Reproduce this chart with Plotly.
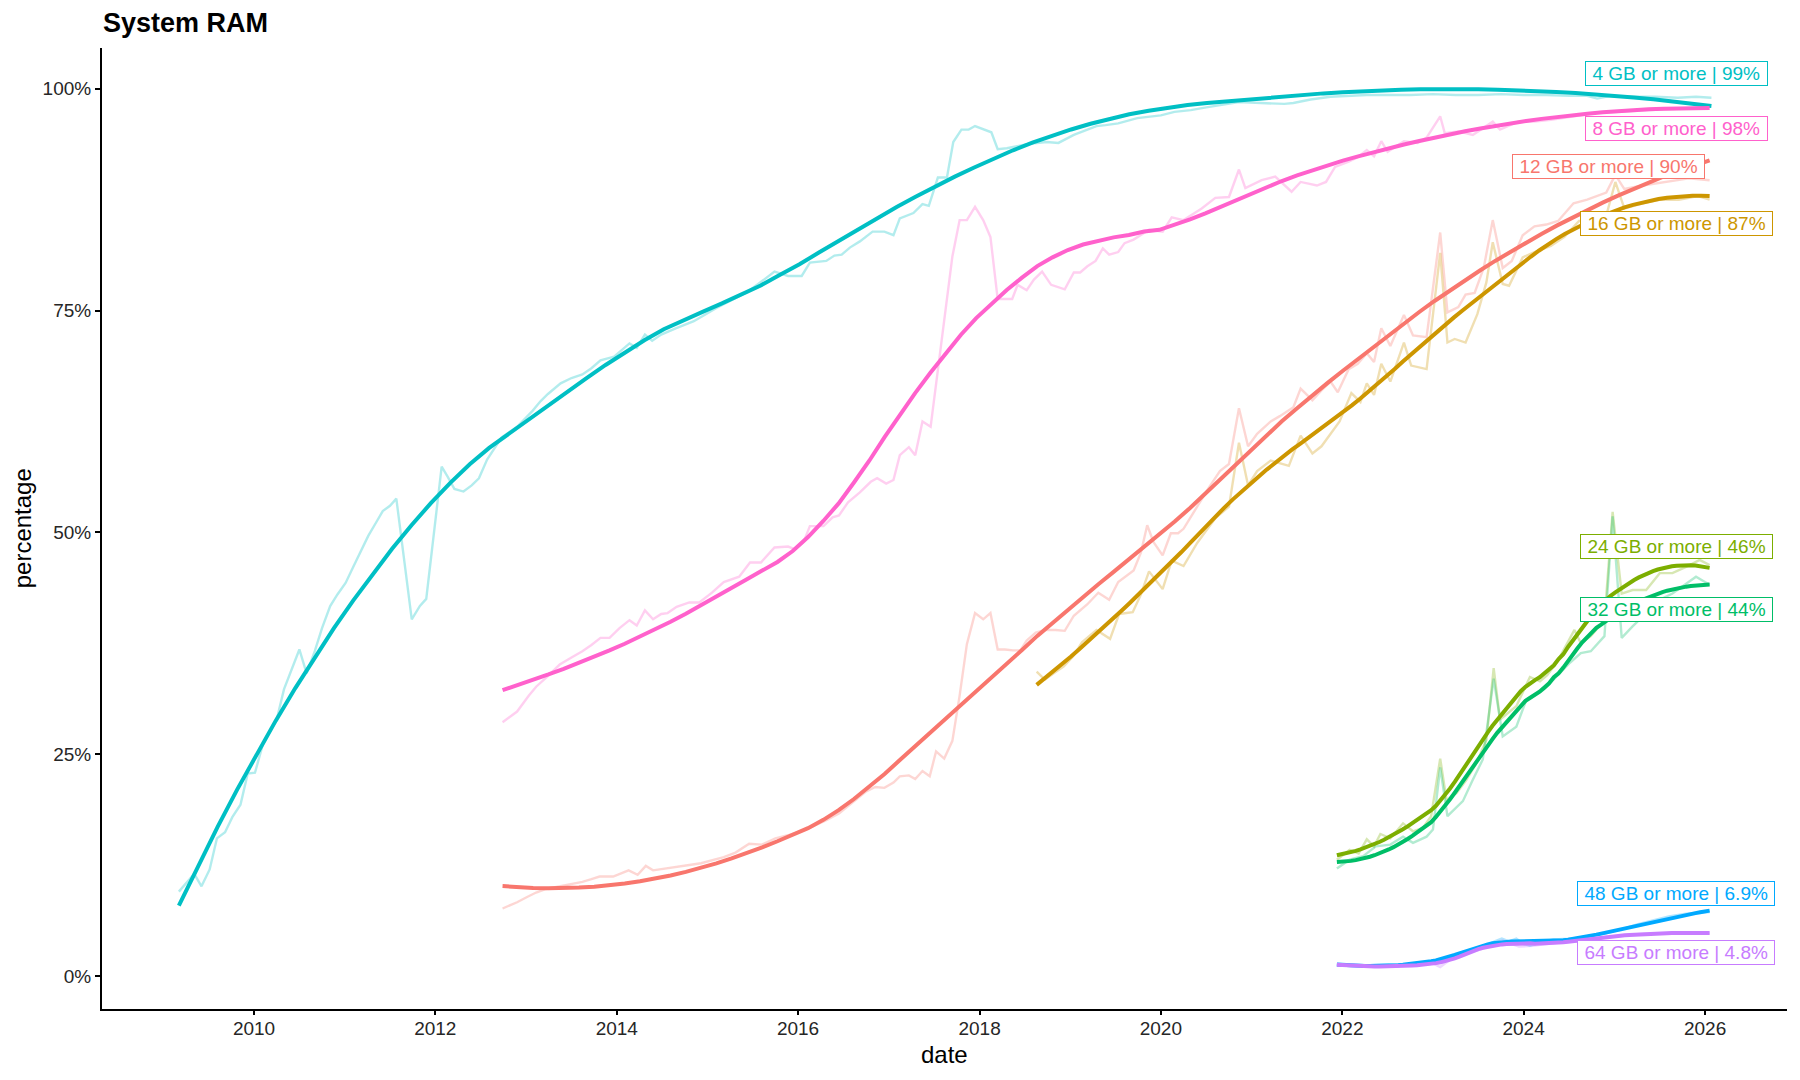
import numpy as np
import pandas as pd
import plotly.graph_objects as go

# ---------------- data (decimal year, percent) ----------------
gb4_t = [2009.17, 2009.34, 2009.42, 2009.51, 2009.59, 2009.68, 2009.76, 2009.85, 2009.93, 2010.01,
         2010.10, 2010.18, 2010.25, 2010.33, 2010.41, 2010.50, 2010.58, 2010.67, 2010.75, 2010.84,
         2010.92, 2011.01, 2011.09, 2011.17, 2011.26, 2011.34, 2011.42, 2011.50, 2011.57, 2011.74,
         2011.83, 2011.90, 2012.07, 2012.14, 2012.21, 2012.31, 2012.40, 2012.48, 2012.57, 2012.73,
         2012.90, 2013.07, 2013.16, 2013.24, 2013.38, 2013.50, 2013.62, 2013.72, 2013.82, 2013.97,
         2014.06, 2014.14, 2014.22, 2014.31, 2014.39, 2014.49, 2014.65, 2014.85, 2015.10, 2015.27,
         2015.44, 2015.60, 2015.74, 2015.89, 2016.04, 2016.13, 2016.31, 2016.40, 2016.48, 2016.57,
         2016.68, 2016.82, 2016.95, 2017.05, 2017.12, 2017.27, 2017.37, 2017.44, 2017.54, 2017.64,
         2017.71, 2017.80, 2017.88, 2017.95, 2018.05, 2018.13, 2018.20, 2018.30, 2018.40, 2018.55,
         2018.74, 2018.87, 2019.04, 2019.17, 2019.29, 2019.39, 2019.53, 2019.74, 2020.00, 2020.15,
         2020.33, 2020.50, 2020.68, 2020.86, 2021.10, 2021.36, 2021.46, 2021.65, 2021.87, 2022.07,
         2022.27, 2022.50, 2022.75, 2023.00, 2023.25, 2023.50, 2023.75, 2024.00, 2024.25, 2024.50,
         2024.70, 2024.81, 2024.96, 2025.20, 2025.45, 2025.70, 2025.90, 2026.07]
gb4_v = [9.5, 11.5, 10.1, 12.0, 15.5, 16.2, 17.9, 19.3, 22.8, 22.9,
         26.2, 27.7, 28.9, 32.3, 34.4, 36.8, 34.1, 36.6, 39.2, 41.7,
         43.0, 44.3, 46.0, 47.7, 49.6, 51.0, 52.4, 53.0, 53.8, 40.2,
         41.7, 42.5, 57.4, 56.2, 54.9, 54.6, 55.3, 56.1, 58.2, 60.7,
         61.9, 63.7, 64.8, 65.6, 66.8, 67.4, 67.8, 68.5, 69.4, 69.8,
         70.6, 71.3, 70.8, 72.3, 71.6, 72.3, 73.0, 73.8, 75.3, 76.2,
         77.1, 78.3, 79.4, 78.9, 78.9, 80.4, 80.6, 81.2, 81.3, 82.1,
         82.8, 83.9, 83.9, 83.5, 85.4, 86.0, 87.0, 86.8, 90.0, 90.0,
         94.0, 95.4, 95.4, 95.8, 95.4, 95.1, 93.2, 93.3, 93.5, 93.8,
         94.0, 93.9, 94.8, 95.3, 95.8, 95.9, 96.1, 96.7, 97.0, 97.4,
         97.6, 97.9, 98.2, 98.5, 98.4, 98.3, 98.4, 98.8, 99.1, 99.2,
         99.3, 99.3, 99.3, 99.4, 99.3, 99.3, 99.4, 99.3, 99.3, 99.2,
         99.2, 98.9, 99.2, 99.1, 99.1, 99.0, 99.1, 99.0]

gb8_t = [2012.74, 2012.90, 2013.03, 2013.11, 2013.23, 2013.37, 2013.50, 2013.62, 2013.72, 2013.82,
         2013.92, 2014.03, 2014.14, 2014.22, 2014.31, 2014.40, 2014.49, 2014.56, 2014.66, 2014.80,
         2014.91, 2015.05, 2015.18, 2015.35, 2015.47, 2015.59, 2015.74, 2015.89, 2015.96, 2016.06,
         2016.13, 2016.28, 2016.38, 2016.45, 2016.55, 2016.68, 2016.80, 2016.87, 2016.97, 2017.05,
         2017.12, 2017.22, 2017.29, 2017.37, 2017.46, 2017.58, 2017.70, 2017.78, 2017.86, 2017.95,
         2018.04, 2018.12, 2018.20, 2018.27, 2018.36, 2018.42, 2018.52, 2018.60, 2018.69, 2018.79,
         2018.94, 2019.04, 2019.11, 2019.19, 2019.28, 2019.36, 2019.43, 2019.53, 2019.60, 2019.70,
         2019.87, 2020.02, 2020.12, 2020.25, 2020.45, 2020.60, 2020.75, 2020.86, 2020.93, 2021.11,
         2021.26, 2021.44, 2021.54, 2021.72, 2021.82, 2021.92, 2022.07, 2022.17, 2022.27, 2022.35,
         2022.43, 2022.50, 2022.68, 2022.83, 2022.93, 2023.08, 2023.13, 2023.28, 2023.44, 2023.66,
         2023.74, 2023.94, 2024.12, 2024.30, 2024.55, 2024.81, 2025.05, 2025.31, 2025.55, 2025.82,
         2026.05]
gb8_v = [28.6, 29.8, 31.6, 32.6, 33.7, 35.1, 35.9, 36.6, 37.3, 38.1,
         38.1, 39.2, 40.1, 39.5, 41.2, 40.2, 40.8, 40.9, 41.6, 42.1,
         42.1, 43.2, 44.4, 45.0, 46.6, 46.6, 48.3, 48.4, 48.1, 48.9,
         50.7, 50.7, 51.7, 51.9, 53.4, 54.5, 55.7, 56.1, 55.5, 55.9,
         58.7, 59.6, 58.7, 62.5, 61.9, 71.5, 81.1, 85.2, 85.2, 86.7,
         85.2, 83.3, 76.3, 76.3, 76.3, 77.9, 77.3, 78.5, 79.4, 77.9,
         77.4, 79.3, 79.3, 80.0, 80.6, 82.0, 81.3, 81.6, 82.6, 83.0,
         84.1, 83.9, 85.5, 85.2, 86.5, 87.7, 87.8, 90.9, 88.8, 89.7,
         90.1, 88.4, 89.5, 89.1, 89.5, 91.2, 91.8, 92.3, 93.1, 92.4,
         94.1, 92.9, 94.1, 93.9, 94.5, 96.9, 95.0, 95.2, 94.8, 96.3,
         95.4, 96.3, 96.3, 96.5, 96.9, 97.3, 97.4, 97.6, 97.7, 97.8,
         98.0]

gb12_t = [2012.74, 2012.90, 2013.01, 2013.11, 2013.22, 2013.33, 2013.48, 2013.62, 2013.72, 2013.81,
          2013.96, 2014.05, 2014.13, 2014.23, 2014.32, 2014.40, 2014.55, 2014.68, 2014.80, 2014.93,
          2015.05, 2015.18, 2015.31, 2015.46, 2015.60, 2015.75, 2015.90, 2016.00, 2016.15, 2016.30,
          2016.45, 2016.60, 2016.75, 2016.85, 2016.95, 2017.05, 2017.12, 2017.22, 2017.29, 2017.37,
          2017.45, 2017.52, 2017.61, 2017.70, 2017.78, 2017.86, 2017.95, 2018.04, 2018.12, 2018.20,
          2018.28, 2018.37, 2018.45, 2018.52, 2018.62, 2018.73, 2018.84, 2018.94, 2019.04, 2019.19,
          2019.31, 2019.43, 2019.53, 2019.70, 2019.78, 2019.85, 2019.92, 2020.02, 2020.11, 2020.19,
          2020.25, 2020.40, 2020.52, 2020.65, 2020.75, 2020.86, 2020.96, 2021.06, 2021.21, 2021.31,
          2021.46, 2021.54, 2021.67, 2021.77, 2021.87, 2021.95, 2022.07, 2022.17, 2022.27, 2022.35,
          2022.43, 2022.53, 2022.68, 2022.78, 2022.93, 2023.08, 2023.16, 2023.28, 2023.36, 2023.46,
          2023.56, 2023.66, 2023.77, 2023.87, 2023.99, 2024.12, 2024.25, 2024.38, 2024.55, 2024.70,
          2024.91, 2025.01, 2025.11, 2025.31, 2025.56, 2025.82, 2026.05]
gb12_v = [7.6, 8.3, 8.9, 9.4, 9.8, 10.0, 10.3, 10.6, 10.9, 11.2,
          11.2, 11.6, 11.9, 11.4, 12.4, 11.9, 12.1, 12.3, 12.5, 12.7,
          13.0, 13.4, 13.9, 14.9, 14.8, 15.5, 15.9, 16.2, 16.8, 17.5,
          18.3, 19.5, 20.8, 21.3, 21.2, 21.8, 22.5, 22.6, 22.2, 23.1,
          22.5, 25.3, 24.5, 26.5, 31.6, 37.4, 40.9, 40.2, 40.9, 36.8,
          36.8, 36.7, 36.7, 37.8, 38.7, 39.0, 39.0, 38.9, 40.6, 41.9,
          43.2, 42.4, 44.4, 45.7, 47.7, 50.8, 48.9, 47.4, 49.9, 49.9,
          50.4, 52.9, 54.9, 56.9, 57.7, 64.0, 59.7, 61.1, 62.5, 63.1,
          64.1, 66.2, 64.9, 66.0, 67.0, 65.8, 68.4, 69.0, 70.2, 69.2,
          73.0, 71.0, 74.5, 72.2, 72.0, 83.8, 74.8, 75.4, 76.8, 77.0,
          79.8, 85.2, 79.8, 80.6, 83.5, 84.5, 84.7, 85.1, 87.1, 87.5,
          88.3, 90.3, 88.7, 89.1, 89.5, 89.9, 89.7]

gb16_t = [2018.63, 2018.72, 2018.83, 2018.93, 2019.03, 2019.13, 2019.29, 2019.44, 2019.54, 2019.69,
          2019.78, 2019.87, 2020.02, 2020.12, 2020.25, 2020.40, 2020.50, 2020.60, 2020.75, 2020.86,
          2020.96, 2021.06, 2021.21, 2021.41, 2021.54, 2021.67, 2021.77, 2021.97, 2022.10, 2022.20,
          2022.27, 2022.35, 2022.43, 2022.53, 2022.68, 2022.76, 2022.93, 2023.08, 2023.16, 2023.24,
          2023.36, 2023.49, 2023.59, 2023.66, 2023.77, 2023.84, 2023.99, 2024.12, 2024.30, 2024.45,
          2024.61, 2024.76, 2024.91, 2025.01, 2025.11, 2025.31, 2025.51, 2025.71, 2025.92, 2026.05]
gb16_v = [34.3, 33.4, 34.2, 34.9, 36.0, 37.6, 39.0, 38.0, 40.8, 41.0,
          43.0, 45.6, 43.6, 46.8, 46.2, 48.8, 50.2, 51.6, 52.9, 60.1,
          55.3, 56.9, 58.1, 57.5, 60.9, 58.9, 59.7, 62.5, 65.7, 64.7,
          66.8, 65.5, 69.0, 67.0, 71.4, 68.8, 68.4, 81.5, 71.4, 71.8,
          71.4, 74.6, 78.2, 82.7, 78.0, 77.8, 81.0, 81.6, 82.3, 83.3,
          85.1, 85.1, 85.7, 89.5, 86.5, 87.1, 87.5, 87.5, 87.9, 87.5]

gb24_t = [2021.94, 2022.08, 2022.18, 2022.27, 2022.35, 2022.42, 2022.53, 2022.67, 2022.78, 2022.89,
          2022.98, 2023.08, 2023.15, 2023.26, 2023.37, 2023.48, 2023.59, 2023.67, 2023.74, 2023.83,
          2023.92, 2024.07, 2024.18, 2024.26, 2024.37, 2024.56, 2024.63, 2024.74, 2024.89, 2024.98,
          2025.08, 2025.20, 2025.35, 2025.50, 2025.64, 2025.79, 2025.94, 2026.05]
gb24_v = [13.1, 14.2, 13.8, 15.4, 14.6, 16.0, 15.5, 17.2, 16.3, 16.7,
          18.0, 24.5, 19.8, 20.6, 22.1, 24.0, 26.6, 34.7, 28.9, 29.6,
          30.4, 33.7, 33.2, 33.9, 35.4, 39.0, 37.5, 38.3, 40.1, 52.3,
          43.1, 43.5, 43.5, 45.4, 45.4, 46.1, 46.9, 46.3]

gb32_t = [2021.94, 2022.08, 2022.23, 2022.37, 2022.53, 2022.67, 2022.78, 2022.93, 2023.00, 2023.08,
          2023.16, 2023.33, 2023.44, 2023.55, 2023.67, 2023.77, 2023.92, 2024.03, 2024.18, 2024.33,
          2024.51, 2024.63, 2024.74, 2024.89, 2024.98, 2025.08, 2025.20, 2025.35, 2025.50, 2025.64,
          2025.77, 2025.90, 2026.05]
gb32_v = [12.1, 13.1, 13.5, 14.6, 14.8, 15.7, 15.0, 15.7, 16.5, 23.5,
          18.0, 19.7, 22.1, 24.4, 33.5, 27.0, 28.1, 31.1, 32.2, 33.4,
          35.3, 36.4, 36.6, 38.3, 51.8, 38.1, 39.4, 40.9, 42.4, 43.1,
          44.1, 45.0, 44.1]

gb48_t = [2021.94, 2022.10, 2022.30, 2022.50, 2022.70, 2022.90, 2023.08, 2023.20, 2023.33, 2023.50,
          2023.59, 2023.68, 2023.76, 2023.84, 2023.92, 2024.00, 2024.07, 2024.20, 2024.33, 2024.50,
          2024.70, 2024.90, 2025.06, 2025.25, 2025.43, 2025.60, 2025.79, 2025.92, 2026.05]
gb48_v = [1.2, 1.2, 1.2, 1.3, 1.3, 1.5, 1.6, 2.2, 2.7, 3.1,
          3.4, 3.9, 4.2, 3.9, 4.2, 3.6, 3.4, 3.8, 4.1, 4.2,
          4.4, 4.8, 5.2, 5.8, 6.3, 6.7, 7.0, 7.1, 7.2]

gb64_t = [2021.94, 2022.10, 2022.30, 2022.50, 2022.70, 2022.90, 2023.00, 2023.08, 2023.20, 2023.33,
          2023.50, 2023.59, 2023.68, 2023.77, 2023.86, 2023.95, 2024.10, 2024.33, 2024.50, 2024.70,
          2024.90, 2025.06, 2025.25, 2025.43, 2025.70, 2025.90, 2026.05]
gb64_v = [1.2, 1.1, 1.2, 1.2, 1.3, 1.4, 1.4, 1.0, 1.9, 2.4,
          2.9, 3.2, 3.7, 4.0, 3.6, 3.3, 3.4, 3.7, 3.9, 4.2,
          4.4, 4.5, 4.7, 4.8, 4.8, 4.9, 4.8]

# category order as in ggplot (factor order) -> draw order
categories = ["12 GB", "16 GB", "24 GB", "32 GB", "4 GB", "48 GB", "64 GB", "8 GB"]
series_t = {"12 GB": gb12_t, "16 GB": gb16_t, "24 GB": gb24_t, "32 GB": gb32_t,
            "4 GB": gb4_t, "48 GB": gb48_t, "64 GB": gb64_t, "8 GB": gb8_t}
series_v = {"12 GB": gb12_v, "16 GB": gb16_v, "24 GB": gb24_v, "32 GB": gb32_v,
            "4 GB": gb4_v, "48 GB": gb48_v, "64 GB": gb64_v, "8 GB": gb8_v}
label_pct = {"4 GB": "99%", "8 GB": "98%", "12 GB": "90%", "16 GB": "87%",
             "24 GB": "46%", "32 GB": "44%", "48 GB": "6.9%", "64 GB": "4.8%"}

# ---------------- styles ----------------
colors = {"12 GB": "#F8766D", "16 GB": "#CD9600", "24 GB": "#7CAE00", "32 GB": "#00BE67",
          "4 GB": "#00BFC4", "48 GB": "#00A9FF", "64 GB": "#C77CFF", "8 GB": "#FF61CC"}
label_pos = {"4 GB": (2025.68, 101.77), "8 GB": (2025.68, 95.57), "12 GB": (2024.93, 91.21),
             "16 GB": (2025.68, 84.8), "24 GB": (2025.68, 48.4), "32 GB": (2025.68, 41.34),
             "48 GB": (2025.68, 9.24), "64 GB": (2025.68, 2.59)}
SPAN = 0.55
FONT = "Liberation Sans, Arial, Helvetica, sans-serif"


def to_dt(years):
    out = []
    for y in years:
        yi = int(np.floor(y))
        a = pd.Timestamp(yi, 1, 1)
        b = pd.Timestamp(yi + 1, 1, 1)
        out.append(a + (b - a) * (y - yi))
    return out


def loess(x, y, span, xo):
    x = np.asarray(x, float)
    y = np.asarray(y, float)
    n = len(x)
    q = max(3, int(np.floor(span * n)))
    res = []
    for x0 in xo:
        d = np.abs(x - x0)
        h = np.sort(d)[q - 1] * 1.0001
        w = np.clip(1 - (d / h) ** 3, 0, None) ** 3
        X = np.vstack([np.ones(n), x - x0, (x - x0) ** 2]).T
        sw = np.sqrt(w)
        beta = np.linalg.lstsq(X * sw[:, None], y * sw, rcond=None)[0]
        res.append(beta[0])
    return np.array(res)


def hex_rgba(h, a):
    h = h.lstrip("#")
    return "rgba(%d,%d,%d,%.2f)" % (int(h[0:2], 16), int(h[2:4], 16), int(h[4:6], 16), a)


fig = go.Figure()

# raw monthly lines
for c in categories:
    fig.add_trace(go.Scatter(x=to_dt(series_t[c]), y=series_v[c], mode="lines",
                             line=dict(color=hex_rgba(colors[c], 0.3), width=2.4),
                             hoverinfo="skip", showlegend=False))

# smoothed lines (loess)
for c in categories:
    t = np.asarray(series_t[c])
    grid = np.linspace(t.min(), t.max(), 80)
    sm = loess(t, series_v[c], SPAN, grid)
    fig.add_trace(go.Scatter(x=to_dt(grid), y=sm, mode="lines",
                             line=dict(color=colors[c], width=4),
                             showlegend=False, name=c))


def text_w(s, size):
    widths = {" ": .278, "G": .778, "B": .667, "o": .556, "r": .333, "m": .833, "e": .556,
              "|": .26, "%": .889, ".": .278}
    return sum(widths.get(ch, .556) for ch in s) * size


LABEL_SIZE = 19
for c in categories:
    txt = f"{c} or more | {label_pct[c]}"
    lx, ly = label_pos[c]
    fig.add_annotation(x=to_dt([lx])[0], y=ly, text=txt, showarrow=False,
                       xanchor="center", yanchor="middle",
                       font=dict(family=FONT, size=LABEL_SIZE, color=colors[c]),
                       bgcolor="white", bordercolor=colors[c], borderwidth=1,
                       borderpad=1, width=text_w(txt, LABEL_SIZE) + 11)

# axis titles
fig.add_annotation(text="date", xref="paper", yref="paper", x=0.5, y=-0.047,
                   showarrow=False, xanchor="center", yanchor="middle",
                   font=dict(family=FONT, size=24, color="black"))
fig.add_annotation(text="percentage", xref="paper", yref="paper", x=-0.047, y=0.5,
                   showarrow=False, xanchor="center", yanchor="middle", textangle=-90,
                   font=dict(family=FONT, size=24, color="black"))

tick_years = [2010, 2012, 2014, 2016, 2018, 2020, 2022, 2024, 2026]
fig.update_layout(
    width=1800, height=1080,
    margin=dict(l=102, r=13, t=48, b=71),
    paper_bgcolor="white", plot_bgcolor="white",
    title=dict(text="<b>System RAM</b>", x=103 / 1800, xanchor="left", xref="container",
               y=1 - 22.5 / 1080, yanchor="middle",
               font=dict(family=FONT, size=27, color="black")),
    xaxis=dict(type="date", range=to_dt([2008.324, 2026.904]),
               tickvals=to_dt(tick_years), ticktext=[str(y) for y in tick_years],
               showgrid=False, zeroline=False, showline=True, linecolor="black", linewidth=2,
               ticks="outside", ticklen=4, tickwidth=2, tickcolor="black",
               ticklabelstandoff=-3,
               tickfont=dict(family=FONT, size=19, color="#262626")),
    yaxis=dict(range=[-3.73, 104.6], tickvals=[0, 25, 50, 75, 100],
               ticktext=["0%", "25%", "50%", "75%", "100%"],
               showgrid=False, zeroline=False, showline=True, linecolor="black", linewidth=2,
               ticks="outside", ticklen=5, tickwidth=2, tickcolor="black",
               tickfont=dict(family=FONT, size=19, color="#262626")),
    showlegend=False,
)

fig.write_html("out.html")
